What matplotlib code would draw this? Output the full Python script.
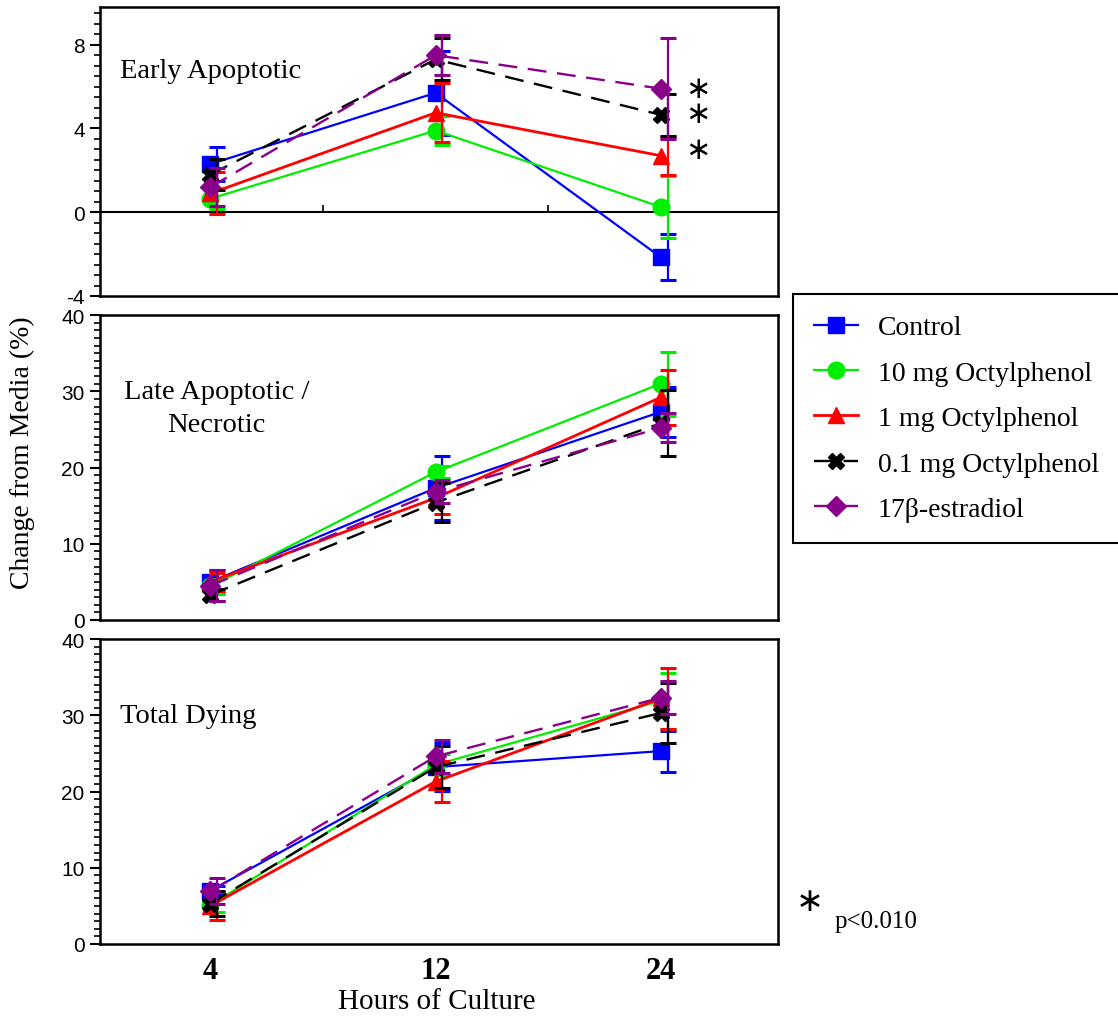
import numpy as np
import matplotlib.pyplot as plt
from matplotlib.ticker import MultipleLocator

plt.rcParams['font.family'] = ['Liberation Serif', 'DejaVu Serif']
plt.rcParams['axes.unicode_minus'] = False

# hours of culture (categorical x)
hours = ['4', '12', '24']

# legend labels
labels = ['Control', '10 mg Octylphenol', '1 mg Octylphenol',
          '0.1 mg Octylphenol', '17\u03b2-estradiol']

# Early apoptotic (% change from media)
early_ctrl = [2.3, 5.7, -2.15]
early_ctrl_err = [0.8, 2.0, 1.1]
early_10 = [0.65, 3.9, 0.25]
early_10_err = [0.5, 0.7, 1.5]
early_1 = [0.9, 4.75, 2.7]
early_1_err = [1.0, 1.4, 0.9]
early_01 = [1.8, 7.3, 4.65]
early_01_err = [0.75, 1.0, 1.0]
early_e2 = [1.2, 7.5, 5.9]
early_e2_err = [0.9, 0.95, 2.4]

# Late apoptotic / necrotic
late_ctrl = [5.0, 17.3, 27.3]
late_ctrl_err = [1.5, 4.2, 3.3]
late_10 = [4.4, 19.4, 31.0]
late_10_err = [1.0, 0.8, 4.2]
late_1 = [5.0, 16.0, 29.2]
late_1_err = [1.2, 2.1, 3.6]
late_01 = [3.3, 15.4, 25.8]
late_01_err = [0.8, 2.6, 4.3]
late_e2 = [4.5, 16.8, 25.2]
late_e2_err = [2.0, 1.5, 1.9]

# Total dying
total_ctrl = [7.0, 23.2, 25.3]
total_ctrl_err = [0.6, 3.1, 2.7]
total_10 = [5.1, 23.5, 31.9]
total_10_err = [0.9, 1.4, 3.7]
total_1 = [5.0, 21.3, 32.2]
total_1_err = [1.8, 2.7, 4.0]
total_01 = [5.3, 23.2, 30.3]
total_01_err = [1.6, 2.8, 3.9]
total_e2 = [6.9, 24.6, 32.3]
total_e2_err = [1.7, 2.2, 2.2]

colors = ['#0000ff', '#00ee00', '#ff0000', 'black', '#8b008b']
markers = ['s', 'o', '^', 'X', 'D']
msizes = [12, 12, 12, 12, 10]
dashed = [False, False, False, True, True]

x = np.arange(1, len(hours) + 1)

W, H = 1118, 1020
fig = plt.figure(figsize=(W / 100, H / 100), dpi=100)


def box(top, bottom, left=100, right=778):
    return [left / W, 1 - bottom / H, (right - left) / W, (bottom - top) / H]


ax1 = fig.add_axes(box(8, 297))
ax2 = fig.add_axes(box(316, 621))
ax3 = fig.add_axes(box(640, 945))


def draw(ax, vals, errs):
    handles = []
    for i in range(5):
        ax.errorbar(x + 0.03, vals[i], yerr=errs[i], fmt='none',
                    ecolor=colors[i], elinewidth=1.6, capsize=6, capthick=2.2,
                    zorder=2 + i)
        kw = dict(color=colors[i], marker=markers[i], markersize=msizes[i],
                  lw=2 if i > 1 else 1.6, zorder=3 + i)
        if dashed[i]:
            kw['dashes'] = (8, 4.5)
            kw['lw'] = 1.7
        ln, = ax.plot(x, vals[i], **kw)
        handles.append(ln)
    return handles


handles = draw(ax1, [early_ctrl, early_10, early_1, early_01, early_e2],
               [early_ctrl_err, early_10_err, early_1_err, early_01_err, early_e2_err])
draw(ax2, [late_ctrl, late_10, late_1, late_01, late_e2],
     [late_ctrl_err, late_10_err, late_1_err, late_01_err, late_e2_err])
draw(ax3, [total_ctrl, total_10, total_1, total_01, total_e2],
     [total_ctrl_err, total_10_err, total_1_err, total_01_err, total_e2_err])

for ax in (ax1, ax2, ax3):
    ax.set_xlim(0.51, 3.52)
    for s in ax.spines.values():
        s.set_linewidth(1.8)
    ax.tick_params(axis='y', which='major', direction='out', length=7, width=1.5,
                   labelsize=15, pad=4)
    ax.tick_params(axis='y', which='minor', direction='out', length=4, width=1.2)

ax1.set_ylim(-4, 9.8)
ax1.set_yticks([-4, 0, 4, 8])
ax1.yaxis.set_minor_locator(MultipleLocator(0.5))
ax1.set_xticks([])

# zero line with small ticks between categories
zero = ax1.secondary_xaxis((0 + 4) / (9.8 + 4))
zero.set_xticks([1.5, 2.5])
zero.tick_params(direction='in', length=5, width=1.2, labelbottom=False)
zero.spines['bottom'].set_linewidth(1.5)

for ax in (ax2, ax3):
    ax.set_ylim(0, 40)
    ax.set_yticks([0, 10, 20, 30, 40])
    ax.yaxis.set_minor_locator(MultipleLocator(1))
ax2.set_xticks([])
ax3.set_xticks(x, hours)
ax3.tick_params(axis='x', length=0, labelsize=22, pad=9)
for t in ax3.get_xticklabels():
    t.set_fontweight('bold')
for ax in (ax1, ax2, ax3):
    for t in ax.get_yticklabels():
        t.set_fontfamily('Liberation Sans')

ax1.text(0.03, 0.78, 'Early Apoptotic', transform=ax1.transAxes, fontsize=20.5,
         va='center', ha='left')
ax2.text(0.172, 0.695, 'Late Apoptotic /\nNecrotic', transform=ax2.transAxes,
         fontsize=20.5, va='center', ha='center', multialignment='center',
         linespacing=1.45)
ax3.text(0.03, 0.75, 'Total Dying', transform=ax3.transAxes, fontsize=20.5,
         va='center', ha='left')

# significance marks (upper two stacked in one text, third on its own)
ax1.text(3.165, (5.9 + 4.69) / 2, '\u2217\n\u2217', fontsize=22,
         family='DejaVu Sans', ha='center', va='center', linespacing=0.82)
ax1.text(3.165, 3.01, '\u2217', fontsize=22, family='DejaVu Sans',
         ha='center', va='center')
fig.text(810 / W, 1 - 902 / H, '\u2217', fontsize=24, family='DejaVu Sans',
         ha='center', va='center')
fig.text(835 / W, 1 - 922 / H, 'p<0.010', fontsize=18, ha='left', va='center')

fig.text(22 / W, 1 - 453 / H, 'Change from Media (%)', rotation=90,
         fontsize=20, ha='center', va='center')
fig.text(437 / W, 1 - 1002 / H, 'Hours of Culture', fontsize=21,
         ha='center', va='center')

leg = fig.legend(handles, labels, loc='upper left',
                 bbox_to_anchor=(793 / W, 1 - 295 / H), fontsize=20,
                 frameon=True, fancybox=False, edgecolor='black',
                 handlelength=1.6, handletextpad=0.7, labelspacing=0.72,
                 borderpad=0.75, borderaxespad=0)
leg.get_frame().set_linewidth(1.5)
leg.get_frame().set_alpha(1)

fig.savefig('out.png', dpi=100)
